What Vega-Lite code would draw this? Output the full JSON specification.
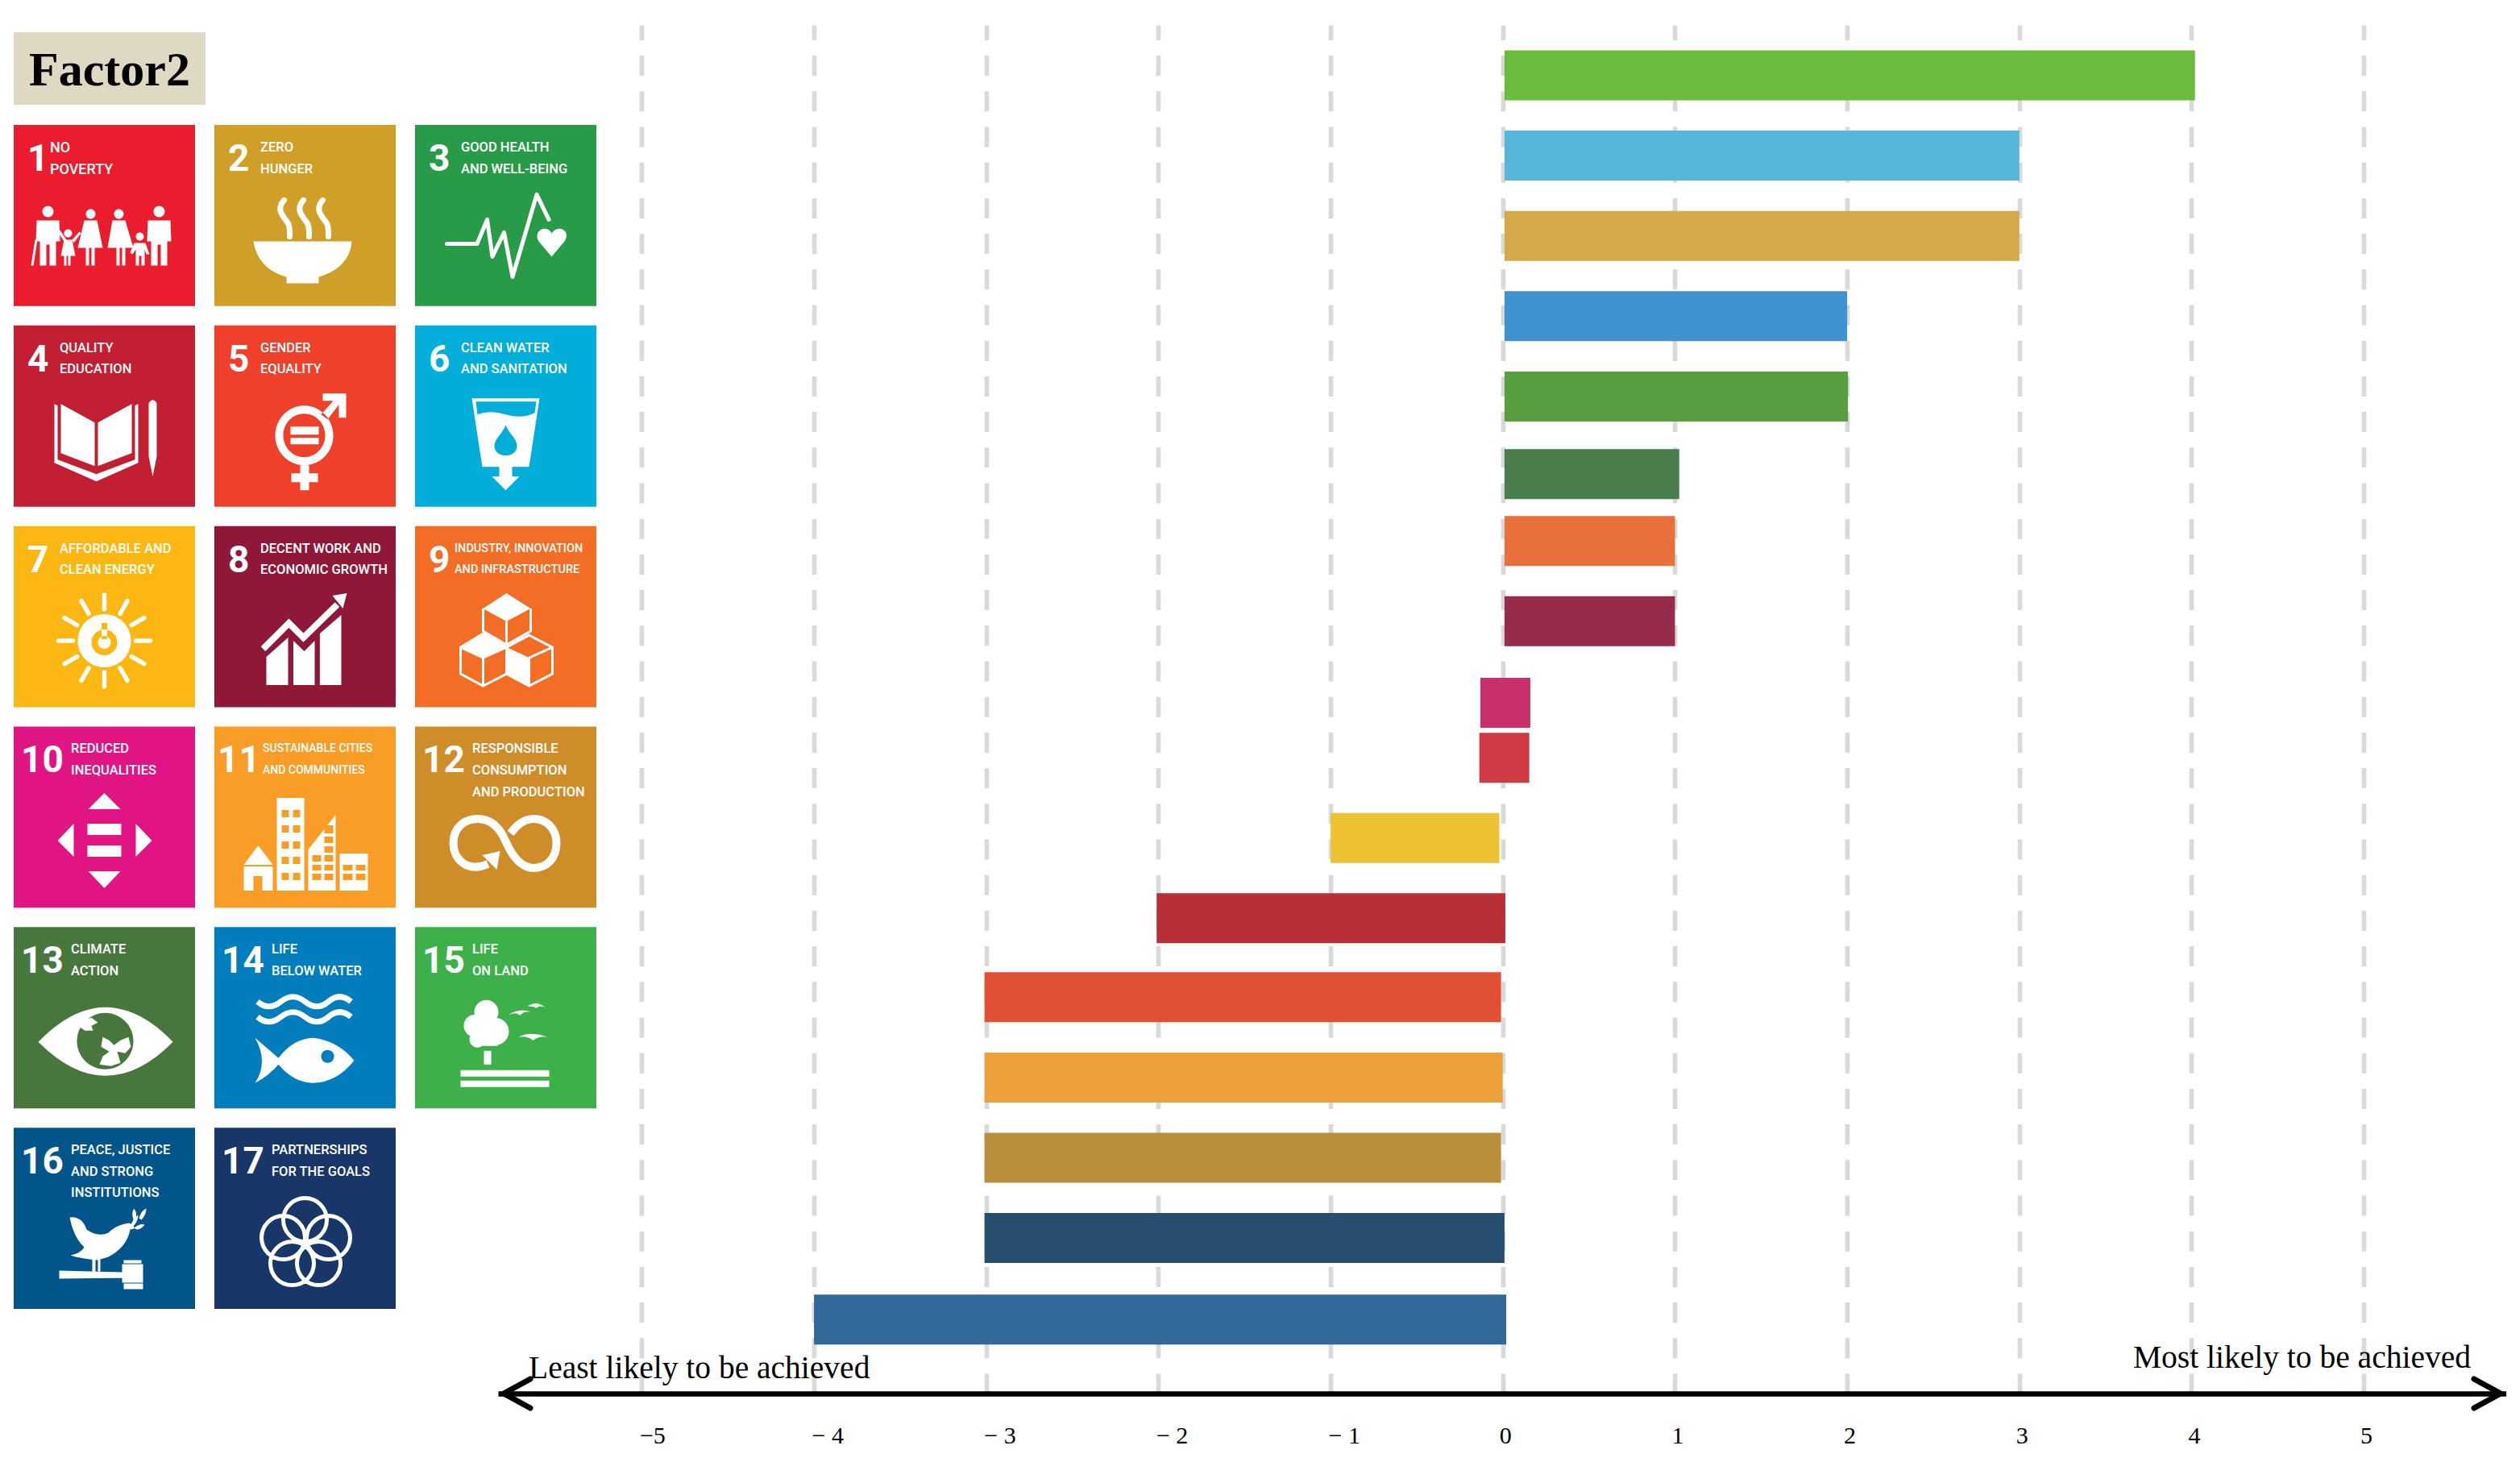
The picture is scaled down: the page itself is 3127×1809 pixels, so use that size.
{
"$schema":"https://vega.github.io/schema/vega-lite/v6.json",
"background":"white",
"padding":{"left":0,"top":31,"right":0,"bottom":0},
"bounds":"flush",
"spacing":0,
"config":{"view":{"stroke":null}},
"resolve":{"scale":{"color":"independent","shape":"independent"}},
"datasets":{
"tiles":[
{"goal":1,"col":1,"row":1,"name":"NO\nPOVERTY"},
{"goal":2,"col":2,"row":1,"name":"ZERO\nHUNGER"},
{"goal":3,"col":3,"row":1,"name":"GOOD HEALTH\nAND WELL-BEING"},
{"goal":4,"col":1,"row":2,"name":"QUALITY\nEDUCATION"},
{"goal":5,"col":2,"row":2,"name":"GENDER\nEQUALITY"},
{"goal":6,"col":3,"row":2,"name":"CLEAN WATER\nAND SANITATION"},
{"goal":7,"col":1,"row":3,"name":"AFFORDABLE AND\nCLEAN ENERGY"},
{"goal":8,"col":2,"row":3,"name":"DECENT WORK AND\nECONOMIC GROWTH"},
{"goal":9,"col":3,"row":3,"name":"INDUSTRY, INNOVATION\nAND INFRASTRUCTURE"},
{"goal":10,"col":1,"row":4,"name":"REDUCED\nINEQUALITIES"},
{"goal":11,"col":2,"row":4,"name":"SUSTAINABLE CITIES\nAND COMMUNITIES"},
{"goal":12,"col":3,"row":4,"name":"RESPONSIBLE\nCONSUMPTION\nAND PRODUCTION"},
{"goal":13,"col":1,"row":5,"name":"CLIMATE\nACTION"},
{"goal":14,"col":2,"row":5,"name":"LIFE\nBELOW WATER"},
{"goal":15,"col":3,"row":5,"name":"LIFE\nON LAND"},
{"goal":16,"col":1,"row":6,"name":"PEACE, JUSTICE\nAND STRONG\nINSTITUTIONS"},
{"goal":17,"col":2,"row":6,"name":"PARTNERSHIPS\nFOR THE GOALS"}
],
"bars":[
{"goal":15,"slot":0,"low":0.01,"high":4.02},
{"goal":6,"slot":6,"low":0.01,"high":3.0},
{"goal":2,"slot":12,"low":0.01,"high":3.0},
{"goal":14,"slot":18,"low":0.01,"high":2.0},
{"goal":3,"slot":24,"low":0.01,"high":2.005},
{"goal":13,"slot":29.8,"low":0.01,"high":1.025},
{"goal":9,"slot":34.8,"low":0.01,"high":1.0},
{"goal":8,"slot":40.8,"low":0.01,"high":1.0},
{"goal":10,"slot":46.9,"low":-0.13,"high":0.16},
{"goal":1,"slot":51,"low":-0.136,"high":0.154},
{"goal":7,"slot":57,"low":-1.0,"high":-0.02},
{"goal":4,"slot":63,"low":-2.01,"high":0.015},
{"goal":5,"slot":68.9,"low":-3.01,"high":-0.01},
{"goal":11,"slot":74.9,"low":-3.01,"high":0.0},
{"goal":12,"slot":80.9,"low":-3.01,"high":-0.01},
{"goal":17,"slot":86.9,"low":-3.01,"high":0.01},
{"goal":16,"slot":93,"low":-4.0,"high":0.02}
]
},
"hconcat":[
{
"width":618,"height":1698,
"resolve":{"scale":{"x":"independent","y":"independent"}},
"layer":[
{
"data":{"values":[{"box":"Factor2"}]},
"encoding":{
"x":{"field":"box","type":"nominal","axis":null,"scale":{"type":"band","domain":["Factor2"],"range":[17,255],"paddingInner":0,"paddingOuter":0}},
"y":{"field":"box","type":"nominal","axis":null,"scale":{"type":"band","domain":["Factor2"],"range":[9,99],"paddingInner":0,"paddingOuter":0}}
},
"layer":[
{"mark":{"type":"rect","color":"#DFD9C3"}},
{"mark":{"type":"text","font":"Liberation Serif","fontWeight":"bold","fontSize":60,"color":"#000000","dy":3},"encoding":{"text":{"field":"box"}}}
]
},
{
"data":{"name":"tiles"},
"resolve":{"scale":{"shape":"independent"}},
"encoding":{
"x":{"field":"col","type":"ordinal","axis":null,"scale":{"type":"band","domain":[1,2,3],"range":[17,740],"paddingInner":0.0964,"paddingOuter":0}},
"y":{"field":"row","type":"ordinal","axis":null,"scale":{"type":"band","domain":[1,2,3,4,5,6],"range":[124,1593],"paddingInner":0.0964,"paddingOuter":0}}
},
"layer":[
{"mark":"rect","encoding":{"color":{"field":"goal","type":"nominal","legend":null,"scale":{"domain":[1,2,3,4,5,6,7,8,9,10,11,12,13,14,15,16,17],"range":["#EB1C2D","#CF9F27","#279B48","#C31F33","#EF402B","#00AED9","#FDB713","#8F1838","#F36D25","#E11484","#F99D26","#CF8D2A","#48773E","#007DBC","#3EB049","#02558B","#183668"]}}}},
{
"mark":{"type":"point","filled":true,"size":4,"color":"#ffffff","opacity":1,"strokeWidth":0},
"encoding":{"shape":{"field":"goal","type":"nominal","legend":null,"scale":{"domain":[1,2,4,5,6,7,8,9,10,11,12,13,14,15,16],"range":[
"M-77 -5a7 7 0 1 0 14 0a7 7 0 1 0 -14 0ZM-84 6L-56 6L-55 32L-60 32L-60 62L-68 62L-68 36L-72 36L-72 62L-80 62L-80 32L-85 32ZM-86 30L-83 30L-88 62L-91 62ZM-50 22a5 5 0 1 0 10 0a5 5 0 1 0 -10 0ZM-50 30L-40 30L-36 50L-42 50L-42 62L-45 62L-45 50L-47 50L-47 62L-50 62L-50 50L-54 50ZM-58 20L-55 18L-47 30L-50 32ZM-40 30L-31 20L-29 22L-38 34ZM-23 -2a6 6 0 1 0 12 0a6 6 0 1 0 -12 0ZM-25 6L-9 6L-2 40L-12 40L-12 62L-16 62L-16 40L-19 40L-19 62L-23 62L-23 40L-33 40ZM12 -2a6 6 0 1 0 12 0a6 6 0 1 0 -12 0ZM10 6L26 6L36 40L26 40L26 62L22 62L22 40L19 40L19 62L15 62L15 40L4 40ZM39 26a5 5 0 1 0 10 0a5 5 0 1 0 -10 0ZM37 34L51 34L56 48L52 48L50 42L50 62L46 62L46 50L43 50L43 62L39 62L39 42L35 48L32 46ZM61 -5a7 7 0 1 0 14 0a7 7 0 1 0 -14 0ZM54 6L82 6L83 32L78 32L78 62L70 62L70 36L66 36L66 62L58 62L58 32L53 32Z",
"M-64 32L58 32C56 58 36 71 17 76L17 84L-23 84L-23 76C-42 71 -60 58 -64 32Z",
"M-62 -15L-58 -13L-58 54L-10 72L38 54L38 -13L42 -15L42 58L-10 81L-62 58ZM-54 -15L-12 8L-12 62L-54 46ZM-8 8L34 -15L34 46L-8 62ZM55 -16Q60 -24 65 -16L65 50L60 75L55 50Z",
"M-37 24a36 37 0 1 0 72 0a36 37 0 1 0 -72 0ZM-27 24a26 27 0 1 1 52 0a26 27 0 1 1 -52 0ZM-18 13L17 13L17 23L-18 23ZM-18 27L17 27L17 35L-18 35ZM22 -28L51 -28L51 2L42 2L42 -14L28 4L20 -2L35 -19L22 -19ZM-6 61L5 61L5 71L16 71L16 82L5 82L5 92L-6 92L-6 82L-17 82L-17 71L-6 71Z",
"M-42 -22L42 -22L29 63L8 63L8 75L17 75L0 92L-17 75L-8 75L-8 63L-29 63Z",
"M-33 30a33 33 0 1 0 66 0a33 33 0 1 0 -66 0Z",
"M-48 50L-21 26L-21 85L-48 85ZM-14.500 30L-1 43L12 30L12 85L-14.500 85ZM18.400 21L45 -2L45 85L18.400 85ZM52 -29L34 -26L47 -10Z",
"M1 -29L31 -10L1 6L-28 -10ZM-28 21L1 38L-28 51L-56 38ZM1 38L29 51L29 86L1 71Z",
"M0 -30L20 -10L-20 -10ZM-20 67L20 67L0 88ZM-38 8L-38 49L-58 29ZM39 8L39 49L59 29ZM-21 8L21 8L21 22L-21 22ZM-21 35L21 35L21 49L-21 49Z",
"M-58 35L-40 59L-76 59ZM-76 61L-40 61L-40 91L-53 91L-53 73L-64 73L-64 91L-76 91ZM-35 -24L-1 -24L-1 91L-35 91ZM38 -3L38 91L4 91L4 40ZM43 45L78 45L78 91L43 91Z",
"M-29 47L-7 42L-11 65Z",
"M-82 30Q-40 -13 1 -13Q44 -13 85 30Q44 72 1 72Q-40 72 -82 30Z",
"M-62 25Q-50 35 -33 50Q-15 26 10 25Q40 28 61 53Q40 80 10 81Q-15 80 -33 58Q-45 72 -62 81Q-45 55 -62 25Z",
"M-39 -7a15 15 0 1 1 30 0a15 15 0 1 1 -30 0ZM-52 10a14 14 0 1 1 28 0a14 14 0 1 1 -28 0ZM-30 17a17 17 0 1 1 34 0a17 17 0 1 1 -34 0ZM-45 27a10 10 0 1 1 20 0a10 10 0 1 1 -20 0ZM-40 15L-10 15L-10 35L-38 35ZM-27 41L-18 41L-18 58L-27 58ZM-56 65L54 65L54 73L-56 73ZM-56 78L54 78L54 86L-56 86ZM3 -3Q18 -14 34 -6Q24 -10 18 -3Q12 -8 3 -3ZM27 -14Q38 -22 49 -13Q42 -16 38 -12Q33 -15 27 -14ZM16 24Q30 16 52 24Q42 22 34 28Q26 22 16 24Z",
"M-43 -1Q-28 -3 -22 14Q-8 24 5 18Q15 8 30 6Q38 8 37 13L32 14Q28 36 5 48L-8 52Q-30 50 -42 46Q-30 44 -25 36Q-38 24 -43 -1ZM-15 50L-11 50L-11 66L-15 66ZM-8 50L-5 50L-5 66L-8 66ZM-56 65L23 67L23 74L-56 75ZM22 57L48 57L48 80L22 80ZM24 52L46 52L46 56L24 56ZM24 81L48 81L48 88L24 88ZM32 10Q36 0 42 -4Q42 3 36 10ZM36 2Q33 -8 37 -12Q41 -6 39 0ZM43 0Q46 -10 52 -12Q52 -4 46 2ZM37 12Q44 6 50 8Q46 14 40 14Z"
]}}},
"transform":[{"filter":{"field":"goal","oneOf":[1,2,4,5,6,7,8,9,10,11,12,13,14,15,16]}}]
},
{
"mark":{"type":"point","filled":true,"size":4,"opacity":1,"strokeWidth":0},
"transform":[{"filter":{"field":"goal","oneOf":[6,7,11,13,14]}}],
"encoding":{
"color":{"field":"goal","type":"nominal","legend":null},
"shape":{"field":"goal","type":"nominal","legend":null,"scale":{"domain":[6,7,11,13,14],"range":[
"M-37 -18L38 -18L36 -4Q20 4 0 -2Q-20 -8 -35 -2ZM0 11C4 22 14 28 14 37C14 45 7 49 0 49C-7 49 -14 45 -14 37C-14 28 -4 22 0 11Z",
"M-16 32a16 16 0 1 0 32 0a16 16 0 1 0 -32 0ZM-8 32a8 8 0 1 1 16 0a8 8 0 1 1 -16 0ZM-3.500 8L3.500 8L3.500 28L-3.500 28Z",
"M-29 -9L-20 -9L-20 0L-29 0ZM-15 -9L-6 -9L-6 0L-15 0ZM-29 10L-20 10L-20 19L-29 19ZM-15 10L-6 10L-6 19L-15 19ZM-29 30L-20 30L-20 39L-29 39ZM-15 30L-6 30L-6 39L-15 39ZM-29 49L-20 49L-20 58L-29 58ZM-15 49L-6 49L-6 58L-15 58ZM-29 69L-20 69L-20 78L-29 78ZM-15 69L-6 69L-6 78L-15 78ZM9 47L20 47L20 55L9 55ZM24 47L35 47L35 55L24 55ZM9 59L20 59L20 66L9 66ZM24 59L35 59L35 66L24 66ZM9 70L20 70L20 78L9 78ZM24 70L35 70L35 78L24 78ZM24 10L35 10L35 20L24 20ZM24 24L35 24L35 32L24 32ZM24 36L35 36L35 44L24 44ZM47 59L59 59L59 66L47 66ZM63 59L75 59L75 66L63 66ZM47 70L59 70L59 78L47 78ZM63 70L75 70L75 78L63 78Z",
"M-34 29a35 35 0 1 0 70 0a35 35 0 1 0 -70 0Z",
"M20 48a8 8 0 1 0 16 0a8 8 0 1 0 -16 0Z"
]}}}
},
{
"mark":{"type":"point","filled":true,"size":4,"color":"#ffffff","opacity":1,"strokeWidth":0},
"transform":[{"filter":{"field":"goal","equal":13}}],
"encoding":{"shape":{"value":"M-31 4L-16 0L-8 6L-16 10L-14 16L-24 16L-30 12ZM-2 24L6 28L12 34L20 28L30 24L33 36L26 44L16 42L20 56L8 60L-6 58L-2 48L6 42L-4 36Z"}}
},
{
"mark":{"type":"point","filled":false,"size":4,"color":"#ffffff","opacity":1,"strokeWidth":7,"strokeCap":"round","strokeJoin":"round","shape":"M-26 -19C-36 -8 -28 0 -22 8C-18 14 -19 20 -19 26M-2 -19C-12 -8 -4 0 2 8C6 14 5 20 5 26M22 -19C12 -8 20 0 26 8C30 14 29 20 29 26"},
"transform":[{"filter":{"field":"goal","equal":2}}]
},
{
"mark":{"type":"point","filled":false,"size":4,"color":"#ffffff","opacity":1,"strokeWidth":5,"strokeJoin":"round","strokeCap":"round","shape":"M-73 35L-35.500 35L-23 5L-16.500 51L-2 21L8.500 76L38.500 -26L53.500 5"},
"transform":[{"filter":{"field":"goal","equal":3}}]
},
{
"mark":{"type":"point","filled":false,"size":4,"color":"#ffffff","opacity":1,"strokeWidth":5.500,"strokeCap":"round","shape":"M0 -9L0 -27M19.500 -3.800L28.500 -19.400M33.800 10.500L49.400 1.500M39 30L57 30M33.800 49.500L49.400 58.500M19.500 63.800L28.500 79.400M0 69L0 87M-19.500 63.800L-28.500 79.400M-33.800 49.500L-49.400 58.500M-39 30L-57 30M-33.800 10.500L-49.400 1.500M-19.500 -3.800L-28.500 -19.400"},
"transform":[{"filter":{"field":"goal","equal":7}}]
},
{
"mark":{"type":"point","filled":false,"size":4,"color":"#ffffff","opacity":1,"strokeWidth":8,"shape":"M-52 40L-20 8L-2 26L40 -15"},
"transform":[{"filter":{"field":"goal","equal":8}}]
},
{
"mark":{"type":"point","filled":false,"size":4,"color":"#ffffff","opacity":1,"strokeWidth":3,"shape":"M-28 -10L-28 18L1 35L31 18L31 -10M1 6L1 38M-28 21L-56 38L-56 71L-28 86L1 71L1 38L-28 21M-56 38L-28 51L1 38M-28 51L-28 86M1 38L29 23L58 38L58 71L29 86L1 71M58 38L29 51M29 51L29 86"},
"transform":[{"filter":{"field":"goal","equal":9}}]
},
{
"mark":{"type":"point","filled":false,"size":4,"color":"#ffffff","opacity":1,"strokeWidth":10,"shape":"M-22 58C-50 70 -65 50 -65 32C-65 12 -50 2 -35 2C-15 2 -5 18 0 30C8 48 20 63 35 63C52 63 63 50 63 32C63 14 50 2 35 2C22 2 14 10 6 20"},
"transform":[{"filter":{"field":"goal","equal":12}}]
},
{
"mark":{"type":"point","filled":false,"size":4,"color":"#ffffff","opacity":1,"strokeWidth":7,"shape":"M-59 -20Q-45 -8 -30 -20T0 -20T29 -20T57 -20M-59 -1Q-45 11 -30 -1T0 -1T29 -1T57 -1"},
"transform":[{"filter":{"field":"goal","equal":14}}]
},
{
"mark":{"type":"point","filled":false,"size":4,"color":"#ffffff","opacity":1,"strokeWidth":5,"shape":"M-27 2a27 27 0 1 0 54 0a27 27 0 1 0 -54 0ZM-54 24a27 27 0 1 0 54 0a27 27 0 1 0 -54 0ZM2 24a27 27 0 1 0 54 0a27 27 0 1 0 -54 0ZM-43 56a27 27 0 1 0 54 0a27 27 0 1 0 -54 0ZM-10 56a27 27 0 1 0 54 0a27 27 0 1 0 -54 0Z"},
"transform":[{"filter":{"field":"goal","equal":17}}]
},
{
"mark":{"type":"point","filled":true,"size":4,"color":"#ffffff","opacity":1,"strokeWidth":0,"shape":"M57 51L41 32C35 22 44 14 52 17C55 18 57 21 57 23C57 21 60 18 63 17C71 14 80 22 73 32Z"},
"transform":[{"filter":{"field":"goal","equal":3}}]
},
{
"mark":{"type":"text","align":"left","baseline":"top","font":"Roboto","fontWeight":"bold","fontSize":46,"color":"#ffffff","dx":17,"dy":21},
"transform":[{"filter":"datum.goal<10"}],
"encoding":{"x":{"field":"col","type":"ordinal","bandPosition":0},"y":{"field":"row","type":"ordinal","bandPosition":0},"text":{"field":"goal"}}
},
{
"mark":{"type":"text","align":"left","baseline":"top","font":"Roboto","fontWeight":"bold","fontSize":46,"color":"#ffffff","dx":9,"dy":21},
"transform":[{"filter":"datum.goal>=10&&datum.goal!=11"}],
"encoding":{"x":{"field":"col","type":"ordinal","bandPosition":0},"y":{"field":"row","type":"ordinal","bandPosition":0},"text":{"field":"goal"}}
},
{
"mark":{"type":"text","align":"left","baseline":"top","font":"Roboto","fontWeight":"bold","fontSize":46,"color":"#ffffff","dx":4,"dy":21},
"transform":[{"filter":"datum.goal==11"}],
"encoding":{"x":{"field":"col","type":"ordinal","bandPosition":0},"y":{"field":"row","type":"ordinal","bandPosition":0},"text":{"field":"goal"}}
},
{
"mark":{"type":"text","align":"left","baseline":"top","font":"Roboto","fontWeight":500,"fontSize":18,"lineHeight":26.6,"lineBreak":"\n","color":"#ffffff","dx":45,"dy":20},
"transform":[{"filter":"datum.goal==1"}],
"encoding":{"x":{"field":"col","type":"ordinal","bandPosition":0},"y":{"field":"row","type":"ordinal","bandPosition":0},"text":{"field":"name"}}
},
{
"mark":{"type":"text","align":"left","baseline":"top","font":"Roboto","fontWeight":500,"fontSize":16.5,"lineHeight":26.6,"lineBreak":"\n","color":"#ffffff","dx":57,"dy":20},
"transform":[{"filter":"datum.goal>=2&&datum.goal<=8"}],
"encoding":{"x":{"field":"col","type":"ordinal","bandPosition":0},"y":{"field":"row","type":"ordinal","bandPosition":0},"text":{"field":"name"}}
},
{
"mark":{"type":"text","align":"left","baseline":"top","font":"Roboto","fontWeight":500,"fontSize":14.500,"lineHeight":26.6,"lineBreak":"\n","color":"#ffffff","dx":49,"dy":21},
"transform":[{"filter":"datum.goal==9"}],
"encoding":{"x":{"field":"col","type":"ordinal","bandPosition":0},"y":{"field":"row","type":"ordinal","bandPosition":0},"text":{"field":"name"}}
},
{
"mark":{"type":"text","align":"left","baseline":"top","font":"Roboto","fontWeight":500,"fontSize":14,"lineHeight":26.6,"lineBreak":"\n","color":"#ffffff","dx":60,"dy":21},
"transform":[{"filter":"datum.goal==11"}],
"encoding":{"x":{"field":"col","type":"ordinal","bandPosition":0},"y":{"field":"row","type":"ordinal","bandPosition":0},"text":{"field":"name"}}
},
{
"mark":{"type":"text","align":"left","baseline":"top","font":"Roboto","fontWeight":500,"fontSize":16.5,"lineHeight":26.6,"lineBreak":"\n","color":"#ffffff","dx":71,"dy":20},
"transform":[{"filter":"datum.goal>=10&&datum.goal!=11"}],
"encoding":{"x":{"field":"col","type":"ordinal","bandPosition":0},"y":{"field":"row","type":"ordinal","bandPosition":0},"text":{"field":"name"}}
}
]
}
]
},
{
"width":2492,"height":1698,
"layer":[
{
"data":{"name":"bars"},
"mark":{"type":"bar","orient":"horizontal","size":62},
"encoding":{
"x":{"field":"low","type":"quantitative","scale":{"domain":[-5.835,5.828],"nice":false,"zero":false},
"axis":{"title":null,"values":[-5,-4,-3,-2,-1,0,1,2,3,4,5],"ticks":false,"grid":true,"gridColor":"#D9D9D9","gridWidth":5.7,"gridDash":[25,19.2],"domain":true,"domainColor":"#000000","domainWidth":6.3,"labelFont":"Liberation Serif","labelFontSize":30,"labelColor":"#000000","labelPadding":37,"labelFlush":false,"labelOverlap":false,"labelAlign":{"condition":{"test":"datum.value<0","value":"left"},"value":"center"},"labelOffset":{"condition":{"test":"datum.value<0","value":-3},"value":3},"labelExpr":"datum.value==-5?'\u22125':datum.value<0?'\u2212 '+abs(datum.value):''+datum.value"}},
"x2":{"field":"high"},
"y":{"field":"slot","type":"quantitative","axis":null,"scale":{"domain":[-3.765,98.52],"nice":false,"zero":false,"reverse":true,"padding":0}},
"color":{"field":"goal","type":"nominal","legend":null,"scale":{"domain":[1,2,3,4,5,6,7,8,9,10,11,12,13,14,15,16,17],"range":["#D03A44","#D3A94A","#5A9E42","#B63036","#E14F35","#55B6D9","#EDC232","#962C4A","#E8703A","#C9306B","#EBA03C","#B98F3C","#4A7D4C","#3F91CF","#6BBB3F","#32689A","#254E6F"]}}
}
},
{
"data":{"values":[{"label":"Least likely to be achieved"}]},
"mark":{"type":"text","align":"left","baseline":"alphabetic","font":"Liberation Serif","fontSize":39.5,"color":"#000000"},
"encoding":{"x":{"datum":-5.657},"y":{"datum":97.4},"text":{"field":"label"}}
},
{
"data":{"values":[{"label":"Most likely to be achieved"}]},
"mark":{"type":"text","align":"right","baseline":"alphabetic","font":"Liberation Serif","fontSize":39.5,"color":"#000000"},
"encoding":{"x":{"datum":5.622},"y":{"datum":96.6},"text":{"field":"label"}}
},
{
"data":{"values":[{"label":"Least"}]},
"mark":{"type":"point","filled":false,"size":4,"shape":"M40 -18L7 0L40 18","color":"#000000","strokeWidth":7,"strokeJoin":"round","strokeCap":"round","opacity":1},
"encoding":{"x":{"datum":-5.835},"y":{"datum":98.52}}
},
{
"data":{"values":[{"label":"Most"}]},
"mark":{"type":"point","filled":false,"size":4,"shape":"M-40 -18L-7 0L-40 18","color":"#000000","strokeWidth":7,"strokeJoin":"round","strokeCap":"round","opacity":1},
"encoding":{"x":{"datum":5.828},"y":{"datum":98.52}}
}
]
}
]
}
